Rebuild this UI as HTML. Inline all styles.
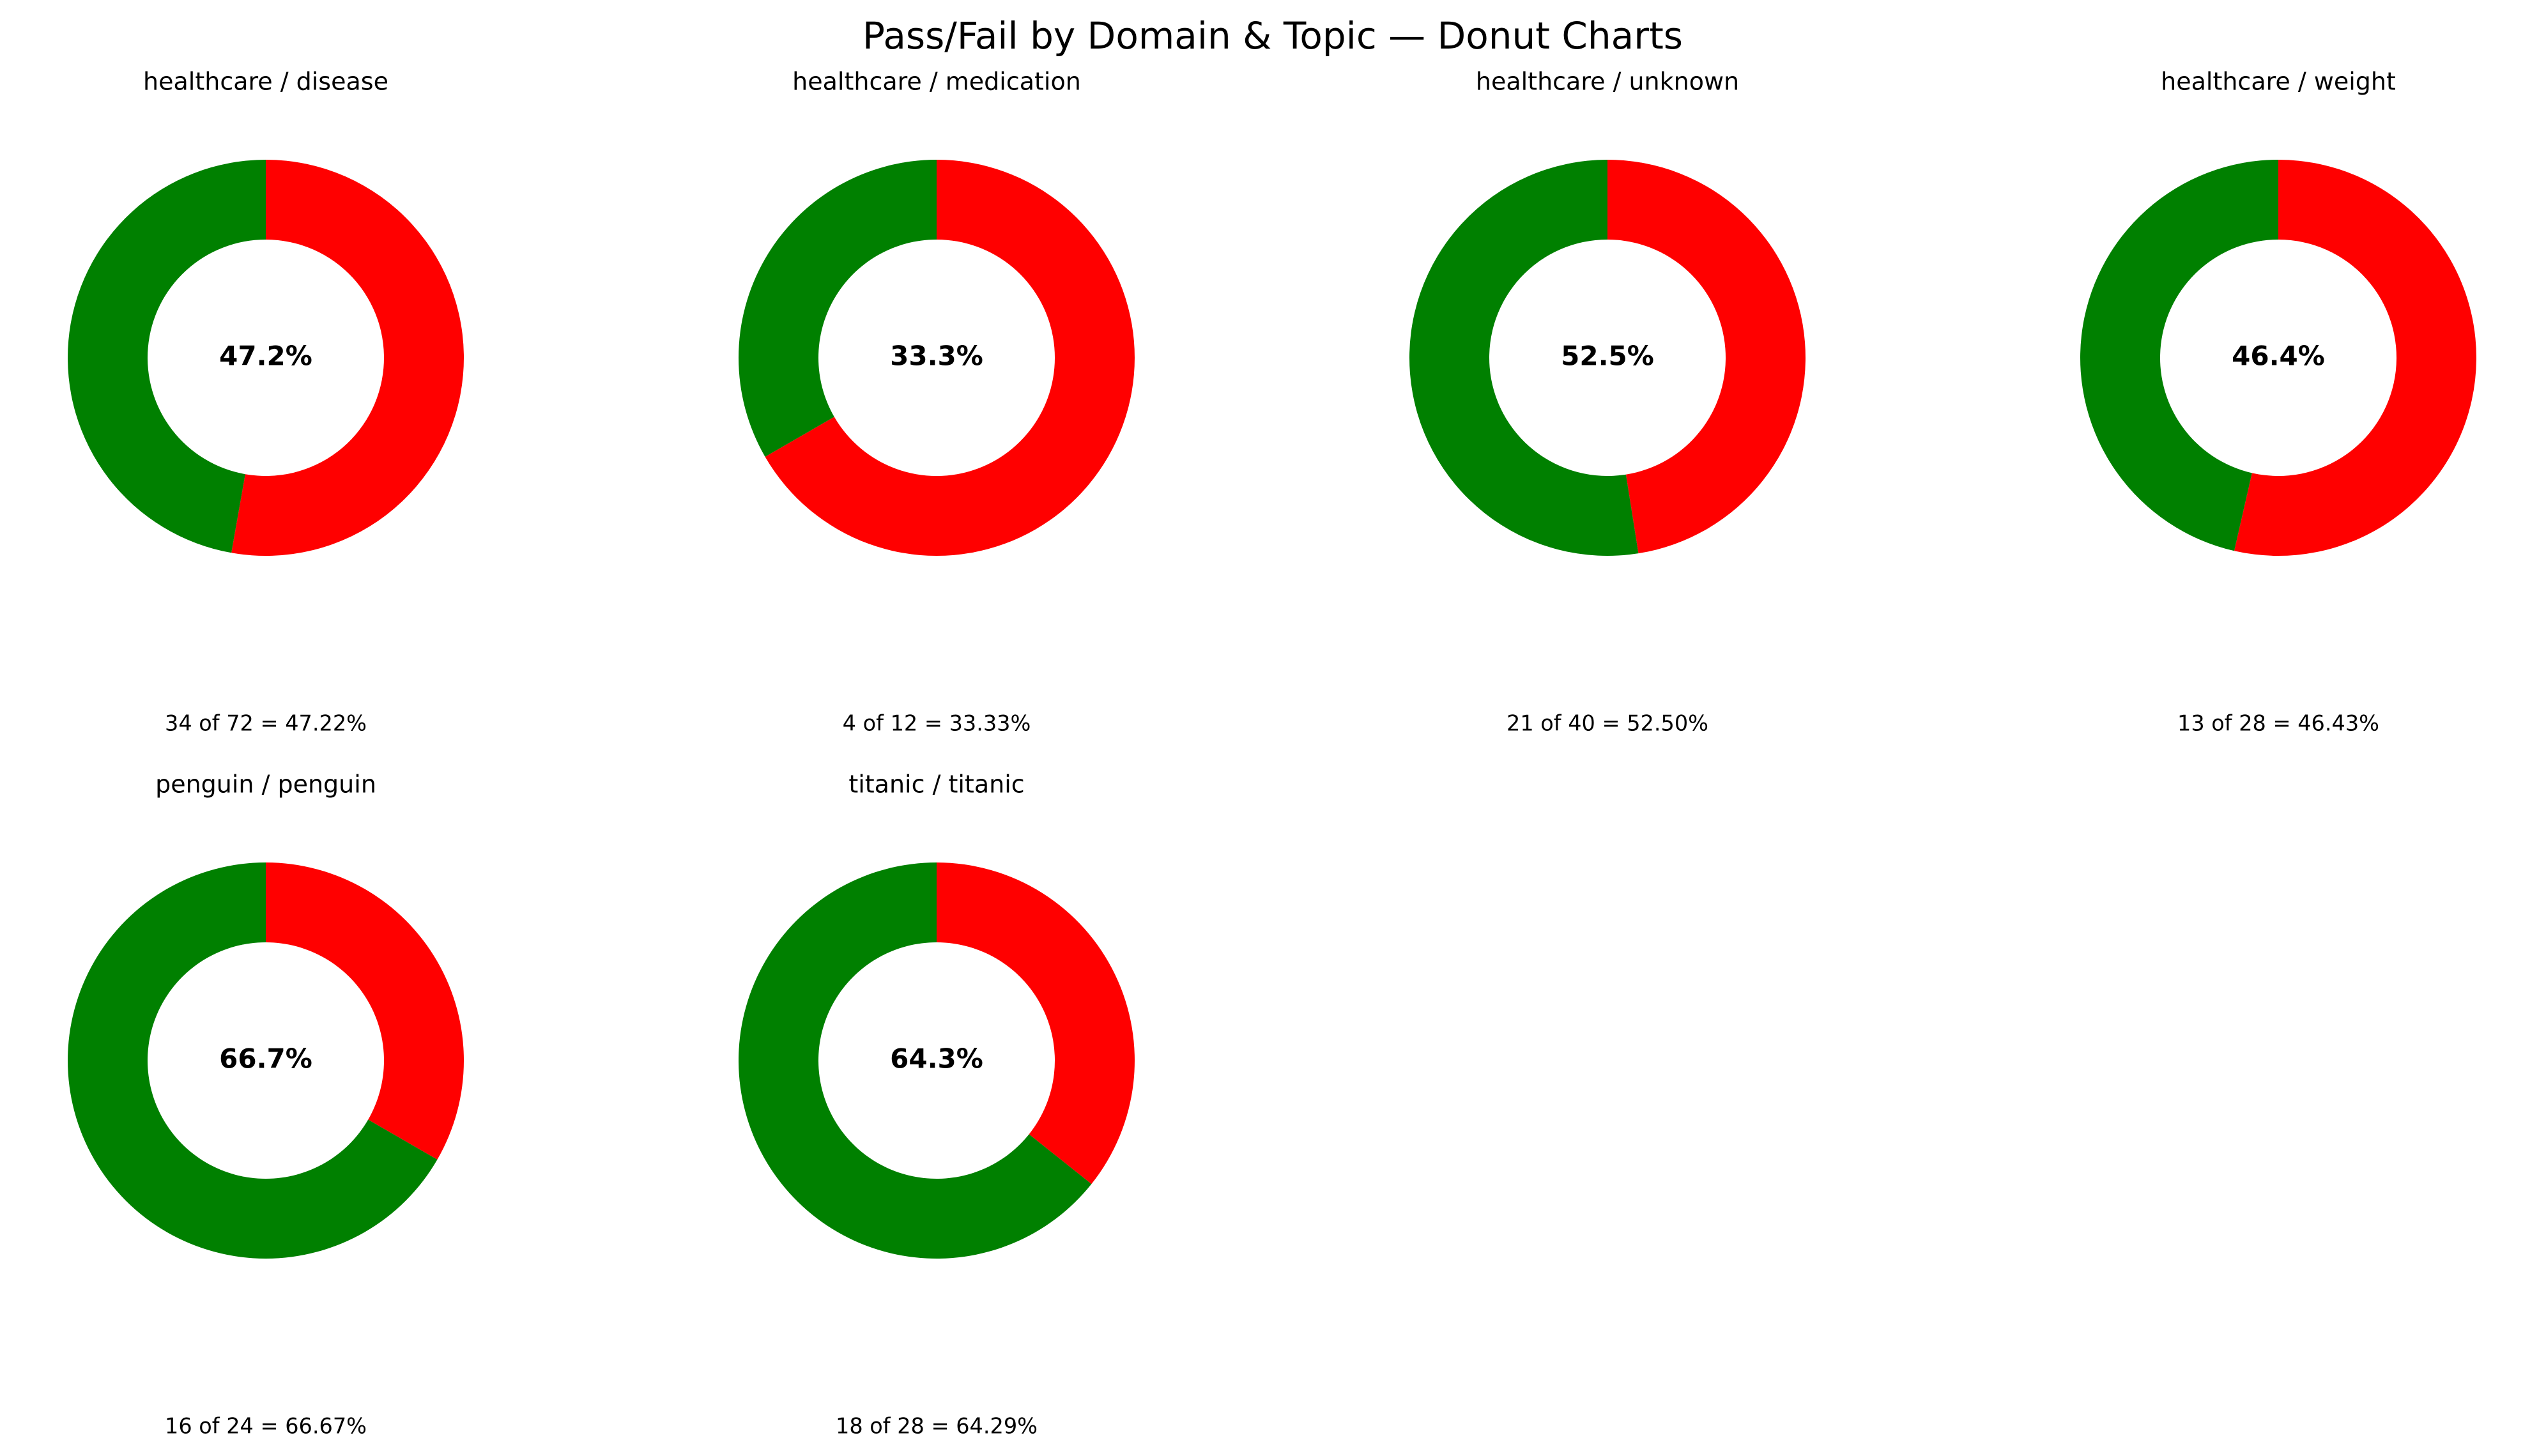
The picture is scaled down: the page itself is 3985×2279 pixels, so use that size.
<!DOCTYPE html>
<html><head><meta charset="utf-8"><style>
html,body{margin:0;padding:0;background:#fff;}
svg{display:block;font-family:"DejaVu Sans","Liberation Sans",sans-serif;}
</style></head><body>
<svg id="chart" width="3985" height="2279" viewBox="0 0 3985 2279">
<rect width="3985" height="2279" fill="#fff"/>
<text x="1992" y="76" text-anchor="middle" font-size="58" fill="#000">Pass/Fail by Domain &amp; Topic — Donut Charts</text>
</svg>
<script>
const titles = ["healthcare / disease","healthcare / medication","healthcare / unknown","healthcare / weight","penguin / penguin","titanic / titanic"];
const passes = [34,4,21,13,16,18];
const totals = [72,12,40,28,24,28];
const svg = document.getElementById('chart');
const NS = "http://www.w3.org/2000/svg";
const colX = [416,1466,2516,3566], rowY = [560,1660];
const R = 310, r = 185;
function pt(cx,cy,rad,frac){const a=frac*2*Math.PI;return [cx+rad*Math.sin(a),cy-rad*Math.cos(a)];}
function arc(cx,cy,f0,f1){
  const large=(f1-f0)>0.5?1:0;
  const [x0,y0]=pt(cx,cy,R,f0),[x1,y1]=pt(cx,cy,R,f1),[x2,y2]=pt(cx,cy,r,f1),[x3,y3]=pt(cx,cy,r,f0);
  return `M${x0},${y0} A${R},${R} 0 ${large} 1 ${x1},${y1} L${x2},${y2} A${r},${r} 0 ${large} 0 ${x3},${y3} Z`;
}
function txt(x,y,s,size,weight,name){
  const t=document.createElementNS(NS,'text');
  t.setAttribute('x',x);t.setAttribute('y',y);t.setAttribute('text-anchor','middle');
  t.setAttribute('font-size',size);if(weight)t.setAttribute('font-weight',weight);
  t.setAttribute('dominant-baseline','middle');
  t.textContent=s;
  
  
  svg.appendChild(t);
}
titles.forEach((title,i)=>{
  const cx=colX[i%4], cy=rowY[Math.floor(i/4)];
  const p=passes[i]/totals[i], f=1-p;
  const g=document.createElementNS(NS,'g');
  
  
  svg.appendChild(g);
  const red=document.createElementNS(NS,'path');
  red.setAttribute('d',arc(cx,cy,0,f));red.setAttribute('fill','#ff0000');
  
  
  g.appendChild(red);
  const green=document.createElementNS(NS,'path');
  green.setAttribute('d',arc(cx,cy,f,1));green.setAttribute('fill','#008000');
  
  
  g.appendChild(green);
  txt(cx,cy-430,title,38,null,'subplot-title');
  txt(cx,cy,(p*100).toFixed(1)+'%',42,'bold','center-percentage');
  txt(cx,cy+574,`${passes[i]} of ${totals[i]} = ${(p*100).toFixed(2)}%`,33.5,null,'pass-count-label');
});
</script>
</body></html>
